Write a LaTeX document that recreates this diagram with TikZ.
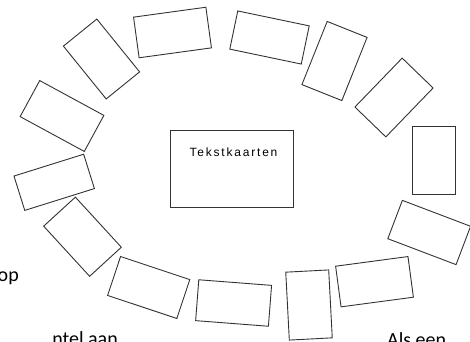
\documentclass[tikz,border=0pt]{standalone}
\usepackage{fontspec}
\setmainfont{Carlito}
\newfontfamily\cardfont[LetterSpace=15]{Liberation Sans}
\usetikzlibrary{positioning}

\begin{document}
\begin{tikzpicture}[
  x=1pt, y=-1pt,
  card/.style={rectangle, draw=black!80, line width=0.9pt,
               inner sep=0pt, fill=white},
  staand/.style={card, minimum width=43pt, minimum height=68pt},
  liggend/.style={card, minimum width=73pt, minimum height=41pt},
  midden/.style={rectangle, draw=black!80, line width=0.9pt,
                 minimum width=123pt, minimum height=77pt, inner sep=0pt},
  los/.style={font=\fontsize{20}{24}\selectfont, inner sep=0pt}
]
  \useasboundingbox (0,0) rectangle (470,341);

  % kaarten in een kring
  \node[staand,  rotate=39]    (k1)  at (101.5,59)   {};
  \node[liggend, rotate=7.8]   (k2)  at (172.5,32.5) {};
  \node[liggend, rotate=-11.8, minimum height=39pt] (k3) at (269.5,37.5) {};
  \node[staand,  rotate=-21.8] (k4)  at (334.5,61)   {};
  \node[staand,  rotate=-44]   (k5)  at (394,97.5)   {};
  \node[staand]                (k6)  at (434,160)    {};
  \node[liggend, rotate=-20.8] (k7)  at (429.2,232.5) {};
  \node[liggend, rotate=7.6]   (k8)  at (374.5,281.7) {};
  \node[staand,  rotate=3]     (k9)  at (309,305)    {};
  \node[liggend, rotate=-4.4]  (k10) at (233.6,303)  {};
  \node[liggend, rotate=-18.4] (k11) at (148.7,287.5) {};
  \node[staand,  rotate=42.5]  (k12) at (82.5,236.7) {};
  \node[liggend, rotate=17.4, minimum height=36pt] (k13) at (54.2,182.3) {};
  \node[liggend, rotate=-28.5] (k14) at (62,116)     {};

  % midden
  \node[midden] (tekst) at (231.5,168.5) {};
  \node[font=\cardfont\fontsize{12}{14}\selectfont, inner sep=0pt,
        anchor=base] (tekstlabel) at (233.5,156) {Tekstkaarten};

  % afgesneden tekst
  \node[los, anchor=base east] (op)  at (19,281)  {op};
  \node[los, anchor=base east] (aan) at (118,345) {ntel aan};
  \node[los, anchor=base west] (als) at (387,346) {Als een};
\end{tikzpicture}
\end{document}
